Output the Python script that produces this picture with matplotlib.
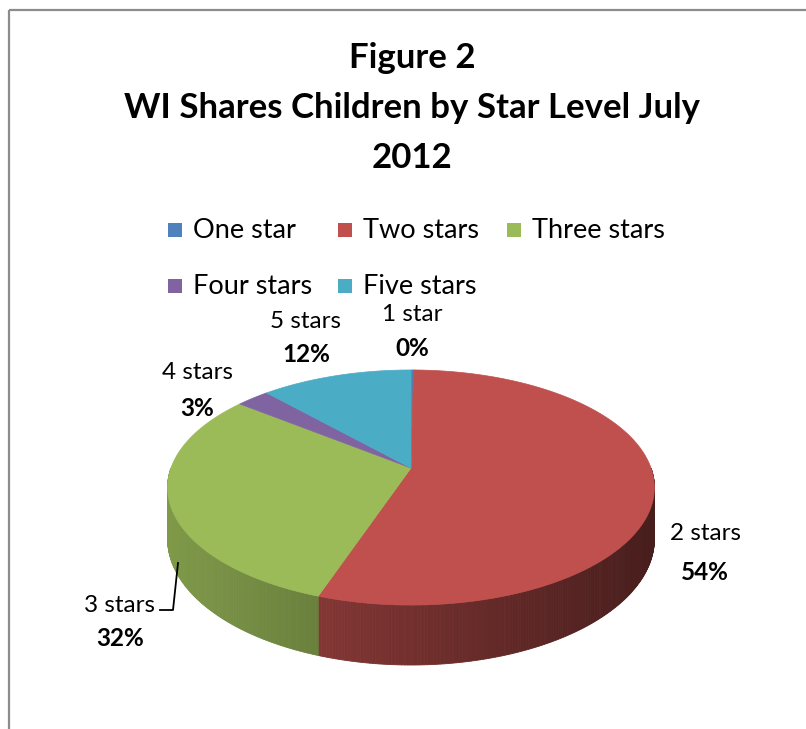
import numpy as np
import matplotlib
matplotlib.use("Agg")
import matplotlib.pyplot as plt
from matplotlib.patches import Polygon, Rectangle
from matplotlib.colors import to_rgb

# ---- data ----
categories = ["One star", "Two stars", "Three stars", "Four stars", "Five stars"]
short_labels = ["1 star", "2 stars", "3 stars", "4 stars", "5 stars"]
values = [0.2, 53.8, 31.6, 2.6, 11.8]
colors = ["#4f81bd", "#c0504d", "#9bbb59", "#8064a2", "#4bacc6"]
title_lines = ["Figure 2", "WI Shares Children by Star Level July", "2012"]

W, H = 806, 729
fig = plt.figure(figsize=(W / 100, H / 100), dpi=100)
ax = fig.add_axes([0, 0, 1, 1])
ax.set_xlim(0, W)
ax.set_ylim(H, 0)
ax.axis("off")

FONT = "Lato"

# frame
ax.plot([9, 9], [H, 10], color="#8c8c8c", lw=1.6, solid_capstyle="butt")
ax.plot([9, W], [10, 10], color="#8c8c8c", lw=1.6, solid_capstyle="butt")

# title
for i, t in enumerate(title_lines):
    ax.text(412, 58 + i * 50, t, ha="center", va="center", fontsize=25,
            fontweight="bold", family=FONT)

# legend
leg_pos = [(168, 230), (338, 230), (507, 230), (168, 286), (338, 286)]
for (lx, ly), cat, col in zip(leg_pos, categories, colors):
    ax.add_patch(Rectangle((lx, ly - 7), 14, 14, color=col, lw=0))
    ax.text(lx + 25, ly, cat, ha="left", va="center", fontsize=19.5, family=FONT)

# ---- 3D pie geometry (perspective) ----
cx, cy = 411, 468
rx0 = 240.0
b = 0.166
a = 114.3
h0 = 50.0
warp = np.deg2rad(9.6)  # front-half angular stretch (near side looks bigger)


def disp_angle(theta):
    if np.cos(theta) < 0:
        return theta + warp * np.sin(2 * theta)
    return theta


def proj(theta, z=0.0):
    t = disp_angle(theta)
    u, v = np.sin(t), np.cos(t)
    s = 1.0 / (1.0 + b * v)
    return cx + rx0 * u * s, cy - a * v * s + z * s


total = float(sum(values))
bounds = np.concatenate([[0], np.cumsum(values) / total * 2 * np.pi])


def shade(col, x):
    t = np.clip((x - 168) / 488.0, 0, 1)
    f = 0.82 - 0.45 * t
    r, g, bb = to_rgb(col)
    return (r * f, g * f, bb * f)


# side walls (front half only)
for i, col in enumerate(colors):
    t0, t1 = bounds[i], bounds[i + 1]
    lo, hi = max(t0, np.pi / 2), min(t1, 3 * np.pi / 2)
    if hi <= lo:
        continue
    ts = np.linspace(lo, hi, max(int((hi - lo) * 120), 2))
    for k in range(len(ts) - 1):
        ta, tb = ts[k], ts[k + 1]
        xa, ya = proj(ta)
        xb, yb = proj(tb)
        xa2, ya2 = proj(ta, h0)
        xb2, yb2 = proj(tb, h0)
        c = shade(col, (xa + xb) / 2)
        ax.add_patch(Polygon([(xa, ya), (xb, yb), (xb2, yb2), (xa2, ya2)],
                             closed=True, facecolor=c, edgecolor=c, lw=0.6))

# top faces
for i, col in enumerate(colors):
    t0, t1 = bounds[i], bounds[i + 1]
    ts = np.linspace(t0, t1, max(int((t1 - t0) * 80), 2))
    pts = [(cx, cy)] + [proj(t) for t in ts]
    ax.add_patch(Polygon(pts, closed=True, facecolor=col, edgecolor=col, lw=0.5))

# data labels
lab_pos = [(412, 314, 348), (705, 533, 572), (120, 605, 638),
           (197, 372, 408), (306, 321, 354)]
for i, (lx, ly1, ly2) in enumerate(lab_pos):
    pct = "%d%%" % round(values[i] / total * 100)
    ax.text(lx, ly1, short_labels[i], ha="center", va="center",
            fontsize=17.5, family=FONT)
    ax.text(lx, ly2, pct, ha="center", va="center", fontsize=17.5,
            fontweight="bold", family=FONT)

# leader line for 3 stars
ax.plot([160, 173, 178], [610, 610, 563], color="black", lw=1.3)

fig.savefig("out.png", dpi=100)
